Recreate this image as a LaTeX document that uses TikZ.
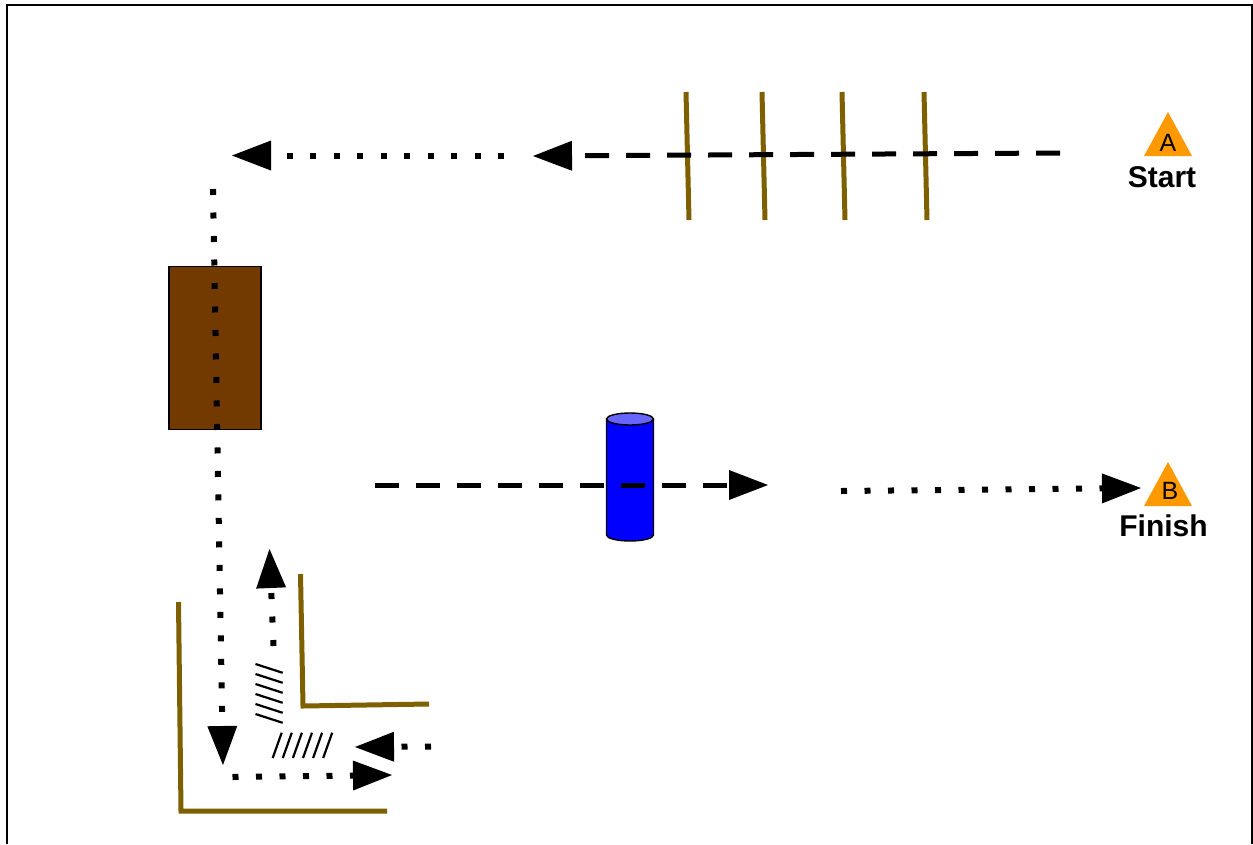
\documentclass[tikz,border=0pt]{standalone}
\usepackage{fontspec}
\setmainfont{Liberation Sans}
\usetikzlibrary{arrows.meta}
\definecolor{barrier}{RGB}{127,96,0}
\definecolor{crate}{RGB}{115,58,0}
\definecolor{mark}{RGB}{255,153,0}
\definecolor{captop}{RGB}{102,102,255}
\tikzset{
  x=1pt,y=-1pt,
  head/.style={-{Triangle[length=39pt,width=30pt,line width=0pt]}},
  dashline/.style={head,line width=5pt,dash pattern=on 24pt off 17pt},
  dotline/.style={head,line width=6pt,dash pattern=on 6pt off 17.5pt},
  fence/.style={draw=barrier,line width=5pt,line join=miter},
  hatch/.style={draw=black,line width=2.2pt},
  marker/.style={fill=mark},
  letter/.style={font=\fontsize{25}{28}\selectfont,inner sep=0pt},
  caption/.style={font=\fontsize{30}{36}\selectfont\bfseries,inner sep=0pt}
}
\begin{document}
\begin{tikzpicture}
\useasboundingbox (0,0) rectangle (1253,844);
\fill[white] (0,0) rectangle (1253,844);
\draw[line width=2.4pt,black] (7,844) -- (7,5) -- (1252,5) -- (1252,844);

% fences
\draw[fence] (686,92) -- (689,220);
\draw[fence] (762,92) -- (765,220);
\draw[fence] (842,92) -- (845,220);
\draw[fence] (924,92) -- (927,220);
\draw[fence] (178.5,602) -- (181,811) -- (387,811);
\draw[fence] (300.5,574) -- (303,706) -- (429,704);

% crate
\node[draw=black,fill=crate,line width=1.2pt,minimum width=92pt,minimum height=163pt,inner sep=0pt] (crate) at (215,348) {};

% cylinder
\draw[black,line width=1.4pt,fill=blue] (606.5,419) -- (606.5,535) arc[start angle=180,end angle=360,x radius=23.5,y radius=-6] -- (653.5,419) -- cycle;
\draw[black,line width=1.4pt,fill=captop] (630,419) ellipse[x radius=23.5,y radius=6];

% path coordinates
\coordinate (a1) at (1060,153);
\coordinate (a2) at (533,156);
\coordinate (b1) at (504,155.5);
\coordinate (b2) at (232,155.5);
\coordinate (c1) at (213,189);
\coordinate (c2) at (223,765);
\coordinate (d1) at (232.5,777);
\coordinate (d2) at (392,775);
\coordinate (e1) at (273.5,646);
\coordinate (e2) at (269.5,549);
\coordinate (f1) at (431,746.5);
\coordinate (f2) at (355,747);
\coordinate (g1) at (375,485);
\coordinate (g2) at (768,485);
\coordinate (h1) at (841,491);
\coordinate (h2) at (1141,488);

\draw[dashline] (a1) -- (a2);
\draw[dotline] (b1) -- (b2);
\draw[dotline] (c1) -- (c2);
\draw[dotline] (d1) -- (d2);
\draw[dotline] (e1) -- (e2);
\draw[dotline] (f1) -- (f2);
\draw[dashline] (g1) -- (g2);
\draw[dotline] (h1) -- (h2);

% hatching
\foreach \k in {0,...,5} {
  \draw[hatch] (255.5,664+10*\k) -- (282.7,672.8+10*\k);
  \draw[hatch] (272.7+10.1*\k,758) -- (281.7+10.1*\k,732.7);
}

% markers
\fill[marker] (1168,112) -- (1192,156) -- (1144,156) -- cycle;
\fill[marker] (1168,462) -- (1192,506) -- (1144,506) -- cycle;
\node[letter] (la) at (1168,143) {A};
\node[letter] (lb) at (1170,491) {B};
\node[caption] (start) at (1162,177) {Start};
\node[caption] (finish) at (1163.5,525.5) {Finish};
\end{tikzpicture}
\end{document}
